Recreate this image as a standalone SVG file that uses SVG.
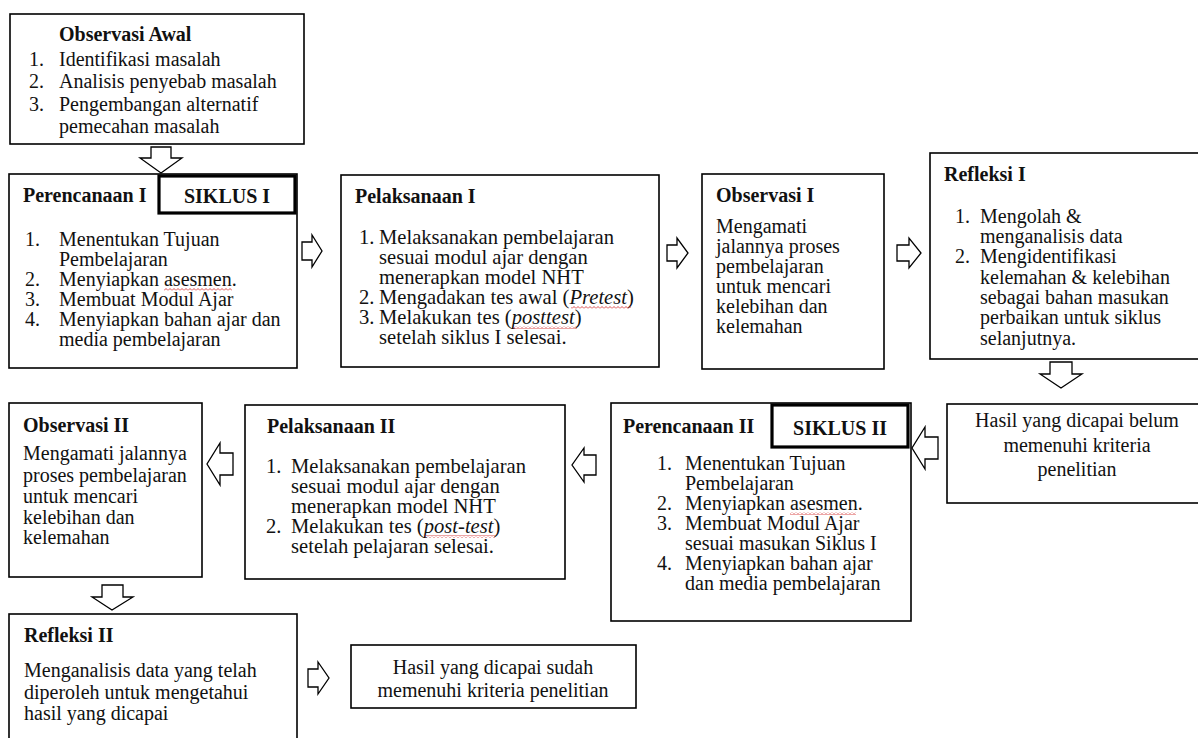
<svg xmlns="http://www.w3.org/2000/svg" width="1198" height="738" viewBox="0 0 1198 738">
<style>
.box{fill:#fff;stroke:#000;stroke-width:1.6}
.tag{fill:#fff;stroke:#000;stroke-width:3.2}
.arr{fill:#fff;stroke:#000;stroke-width:1.3;stroke-linejoin:miter}
text{font-family:"Liberation Serif","Times New Roman",serif;font-size:20px;fill:#111}
.b{font-weight:bold}
.c{text-anchor:middle}
.i{font-style:italic}
.w{font-size:20.6px}
</style>
<defs>
<pattern id="wave" x="0" y="0" width="4" height="3" patternUnits="userSpaceOnUse">
<path d="M0,2.5 L2,0.5 L4,2.5" fill="none" stroke="#d02020" stroke-width="0.8"/>
</pattern>
</defs>
<rect width="1198" height="738" fill="#fff"/>

<g id="observasi-awal">
<rect class="box" x="10" y="14" width="294" height="130"/>
<text class="b" x="59" y="41">Observasi Awal</text>
<text x="29" y="66">1.</text><text x="59" y="66">Identifikasi masalah</text>
<text x="29" y="88">2.</text><text x="59" y="88">Analisis penyebab masalah</text>
<text x="29" y="111">3.</text><text x="59" y="111">Pengembangan alternatif</text>
<text x="59" y="133">pemecahan masalah</text>
</g>

<g id="perencanaan-1">
<rect class="box" x="9" y="174" width="288" height="194"/>
<text class="b" x="23" y="202">Perencanaan I</text>
<rect class="tag" x="159" y="176" width="136" height="37"/>
<text class="b c" x="227" y="203">SIKLUS I</text>
<text x="25" y="246">1.</text><text x="59" y="246">Menentukan Tujuan</text>
<text x="59" y="266">Pembelajaran</text>
<text x="25" y="286">2.</text><text x="59" y="286">Menyiapkan asesmen.</text>
<rect x="164" y="288" width="68" height="3" fill="url(#wave)"/>
<text x="25" y="306">3.</text><text x="59" y="306">Membuat Modul Ajar</text>
<text x="25" y="326">4.</text><text x="59" y="326">Menyiapkan bahan ajar dan</text>
<text x="59" y="346">media pembelajaran</text>
</g>

<g id="pelaksanaan-1">
<rect class="box" x="341" y="175" width="318" height="192"/>
<text class="b" x="355" y="203">Pelaksanaan I</text>
<text class="w" x="359" y="244">1.</text><text class="w" x="379" y="244">Melaksanakan pembelajaran</text>
<text class="w" x="379" y="264">sesuai modul ajar dengan</text>
<text class="w" x="379" y="284">menerapkan model NHT</text>
<text class="w" x="359" y="304">2.</text><text class="w" x="379" y="304">Mengadakan tes awal (<tspan class="i">Pretest</tspan>)</text>
<rect x="571" y="306" width="60" height="3" fill="url(#wave)"/>
<text class="w" x="359" y="324">3.</text><text class="w" x="379" y="324">Melakukan tes (<tspan class="i">posttest</tspan>)</text>
<rect x="513" y="326" width="64" height="3" fill="url(#wave)"/>
<text class="w" x="379" y="344">setelah siklus I selesai.</text>
</g>

<g id="observasi-1">
<rect class="box" x="702" y="174" width="182" height="195"/>
<text class="b" x="716" y="202">Observasi I</text>
<text x="716" y="233">Mengamati</text>
<text x="716" y="253">jalannya proses</text>
<text x="716" y="273">pembelajaran</text>
<text x="716" y="293">untuk mencari</text>
<text x="716" y="313">kelebihan dan</text>
<text x="716" y="333">kelemahan</text>
</g>

<g id="refleksi-1">
<rect class="box" x="930" y="153" width="280" height="206"/>
<text class="b" x="944" y="181">Refleksi I</text>
<text x="955" y="223">1.</text><text x="980" y="223">Mengolah &amp;</text>
<text x="980" y="243">menganalisis data</text>
<text x="955" y="263">2.</text><text x="980" y="263">Mengidentifikasi</text>
<text x="980" y="284">kelemahan &amp; kelebihan</text>
<text x="980" y="304">sebagai bahan masukan</text>
<text x="980" y="324">perbaikan untuk siklus</text>
<text x="980" y="345">selanjutnya.</text>
</g>

<g id="hasil-belum">
<rect class="box" x="947" y="404" width="263" height="99"/>
<text class="c" x="1077" y="427">Hasil yang dicapai belum</text>
<text class="c" x="1077" y="452">memenuhi kriteria</text>
<text class="c" x="1077" y="476">penelitian</text>
</g>

<g id="perencanaan-2">
<rect class="box" x="611" y="403" width="300" height="218"/>
<text class="b" x="623" y="433">Perencanaan II</text>
<rect class="tag" x="772" y="405" width="136" height="42"/>
<text class="b c" x="840" y="435">SIKLUS II</text>
<text x="657" y="470">1.</text><text x="685" y="470">Menentukan Tujuan</text>
<text x="685" y="490">Pembelajaran</text>
<text x="657" y="510">2.</text><text x="685" y="510">Menyiapkan asesmen.</text>
<rect x="790" y="512" width="66" height="3" fill="url(#wave)"/>
<text x="657" y="530">3.</text><text x="685" y="530">Membuat Modul Ajar</text>
<text x="685" y="550">sesuai masukan Siklus I</text>
<text x="657" y="570">4.</text><text x="685" y="570">Menyiapkan bahan ajar</text>
<text x="685" y="590">dan media pembelajaran</text>
</g>

<g id="pelaksanaan-2">
<rect class="box" x="245" y="405" width="320" height="174"/>
<text class="b" x="267" y="433">Pelaksanaan II</text>
<text class="w" x="266" y="473">1.</text><text class="w" x="291" y="473">Melaksanakan pembelajaran</text>
<text class="w" x="291" y="493">sesuai modul ajar dengan</text>
<text class="w" x="291" y="513">menerapkan model NHT</text>
<text class="w" x="266" y="533">2.</text><text class="w" x="291" y="533">Melakukan tes (<tspan class="i">post-test</tspan>)</text>
<rect x="424" y="535" width="71" height="3" fill="url(#wave)"/>
<text class="w" x="291" y="553">setelah pelajaran selesai.</text>
</g>

<g id="observasi-2">
<rect class="box" x="9" y="403" width="193" height="174"/>
<text class="b" x="23" y="432">Observasi II</text>
<text x="23" y="460">Mengamati jalannya</text>
<text x="23" y="482">proses pembelajaran</text>
<text x="23" y="503">untuk mencari</text>
<text x="23" y="524">kelebihan dan</text>
<text x="23" y="544">kelemahan</text>
</g>

<g id="refleksi-2">
<rect class="box" x="9" y="614" width="288" height="140"/>
<text class="b" x="24" y="642">Refleksi II</text>
<text x="24" y="677">Menganalisis data yang telah</text>
<text x="24" y="699">diperoleh untuk mengetahui</text>
<text x="24" y="720">hasil yang dicapai</text>
</g>

<g id="hasil-sudah">
<rect class="box" x="351" y="645" width="285" height="63"/>
<text class="c" x="493" y="674">Hasil yang dicapai sudah</text>
<text class="c" x="493" y="697">memenuhi kriteria penelitian</text>
</g>

<g id="connectors">
<path class="arr" d="M151,147 H171 V158 H182 L161,173 L140,158 H151 Z"/>
<path class="arr" d="M302,242 H312 V235 L322,251 L312,267 V260 H302 Z"/>
<path class="arr" d="M667,245 H677 V238 L688,253 L677,268 V261 H667 Z"/>
<path class="arr" d="M897,245 H909 V238 L921,253 L909,268 V261 H897 Z"/>
<path class="arr" d="M1050,362 H1072 V374 H1082 L1061,388 L1040,374 H1050 Z"/>
<path class="arr" d="M938,437 H925 V427 L912,448 L925,469 V459 H938 Z"/>
<path class="arr" d="M596,455 H584 V448 L572,465 L584,482 V475 H596 Z"/>
<path class="arr" d="M233,453 H220 V443 L207,464 L220,485 V475 H233 Z"/>
<path class="arr" d="M102,585 H123 V597 H133 L112,610 L92,597 H102 Z"/>
<path class="arr" d="M308,669 H318 V662 L329,678 L318,694 V687 H308 Z"/>
</g>
</svg>
